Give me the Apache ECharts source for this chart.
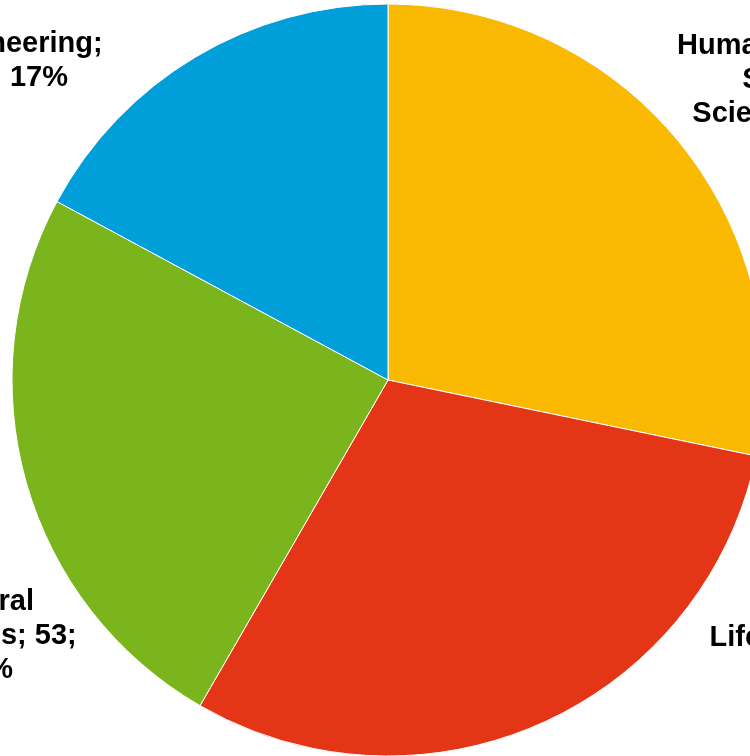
<!DOCTYPE html>
<html>
<head>
<meta charset="utf-8">
<script src="https://cdn.jsdelivr.net/npm/echarts@6/dist/echarts.min.js"></script>
<style>
html,body{margin:0;padding:0;background:#fff;}
#chart{width:750px;height:756px;}
</style>
</head>
<body>
<div id="chart"></div>
<script>
const categories = ['Humanities and\nSocial\nSciences', 'Life Sciences', 'Natural\nSciences', 'Engineering'];
const values = [61, 65, 53, 37];
const colors = ['#F9B900', '#E43617', '#7BB51E', '#009FDA'];

const chart = echarts.init(document.getElementById('chart'), null, {renderer: 'canvas'});

// label centres, chosen per slice like the reference's best-fit layout
const labelAnchors = [[785, 97], [832, 655], [-16, 636], [14, 61]];

chart.setOption({
  backgroundColor: '#ffffff',
  animation: false,
  series: [{
    type: 'pie',
    center: [388, 380],
    radius: [0, 376],
    startAngle: 90,
    clockwise: true,
    avoidLabelOverlap: false,
    data: categories.map((c, i) => ({
      name: c,
      value: values[i],
      itemStyle: {color: colors[i]}
    })),
    itemStyle: {borderColor: '#ffffff', borderWidth: 1},
    label: {
      show: true,
      position: 'outside',
      fontFamily: 'Liberation Sans, Arial, sans-serif',
      fontWeight: 'bold',
      fontSize: 29,
      lineHeight: 34,
      color: '#000000',
      align: 'center',
      formatter: function (p) {
        const i = p.dataIndex;
        const pct = Math.round(p.percent) + '%';
        if (i === 1) return 'Life Sciences; ' + p.value + ';\n' + pct;
        if (i === 3) return 'Engineering;\n' + p.value + '; ' + pct;
        return p.name + '; ' + p.value + ';\n' + pct;
      }
    },
    labelLine: {show: false},
    labelLayout: function (params) {
      const a = labelAnchors[params.dataIndex];
      return {x: a[0], y: a[1], align: 'center', verticalAlign: 'middle'};
    },
    emphasis: {disabled: true}
  }]
});
</script>
</body>
</html>
